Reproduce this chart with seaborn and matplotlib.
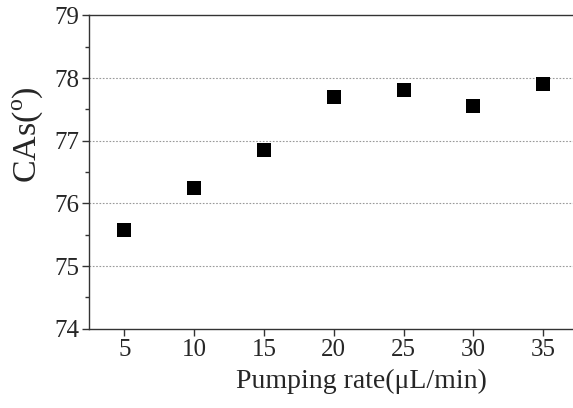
import matplotlib
matplotlib.use("Agg")
import matplotlib.pyplot as plt
import seaborn as sns
import pandas as pd
from matplotlib.ticker import MultipleLocator

pumping_rate = [5, 10, 15, 20, 25, 30, 35]
cas = [75.58, 76.25, 76.85, 77.70, 77.81, 77.55, 77.90]

sns.set_style("white")
plt.rcParams["font.family"] = ["Liberation Serif", "DejaVu Serif"]
plt.rcParams["mathtext.fontset"] = "custom"
plt.rcParams["mathtext.rm"] = "Liberation Serif"

df = pd.DataFrame({"rate": pumping_rate, "cas": cas})

fig = plt.figure(figsize=(5.73, 4.08), dpi=100)
ax = fig.add_axes([0.156, 0.194, 1.009 - 0.156, 0.9625 - 0.194])
sns.scatterplot(data=df, x="rate", y="cas", marker="s", s=110, color="black",
                edgecolor="black", linewidth=0, ax=ax, zorder=3)

ax.set_xlim(2.5, 37.5)
ax.set_ylim(74, 79)
ax.set_xticks([5, 10, 15, 20, 25, 30, 35])
ax.set_yticks([74, 75, 76, 77, 78, 79])
ax.yaxis.set_minor_locator(MultipleLocator(0.5))
for y in [75, 76, 77, 78]:
    ax.axhline(y, color="#999999", linestyle=(0, (1.5, 1.5)), linewidth=0.8, zorder=1)

for side in ["left", "bottom", "top"]:
    ax.spines[side].set_visible(True)
    ax.spines[side].set_color("#333333")
    ax.spines[side].set_linewidth(1.0)
ax.spines["right"].set_visible(False)

ax.tick_params(axis="both", which="major", direction="out", length=5, width=1,
               color="#333333", labelsize=18, pad=2, left=True, bottom=True)
ax.tick_params(axis="y", which="minor", direction="out", length=3, width=1,
               color="#333333", left=True)

ax.set_xlabel("Pumping rate(μL/min)", fontsize=20)
ax.set_ylabel("CAs($^{\\mathrm{o}}$)", fontsize=24.5)
ax.xaxis.set_label_coords(0.556, -0.128)
ax.yaxis.set_label_coords(-0.09, 0.618)

fig.savefig("out.png", dpi=100)
